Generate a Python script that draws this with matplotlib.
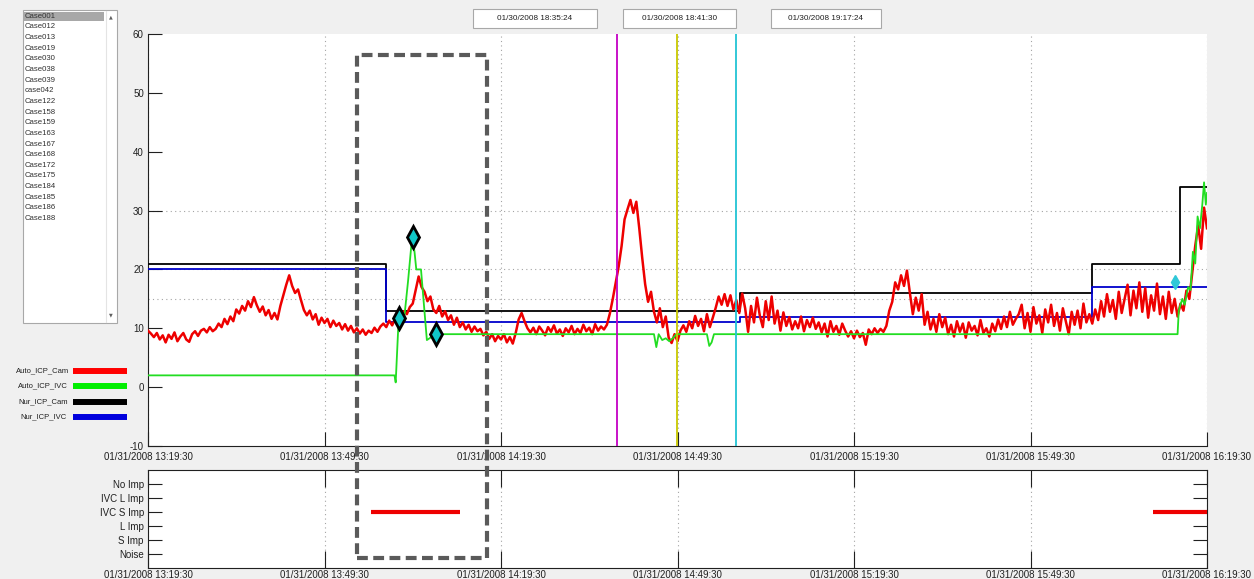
import matplotlib
matplotlib.use('Agg')
import matplotlib.pyplot as plt
from matplotlib.patches import Rectangle
from matplotlib.lines import Line2D
import numpy as np

plt.rcParams['font.family'] = ['Liberation Sans', 'DejaVu Sans']
plt.rcParams['axes.unicode_minus'] = False

# ---------------- data ----------------
case_list = ['Case001', 'Case012', 'Case013', 'Case019', 'Case030', 'Case038', 'Case039',
             'case042', 'Case122', 'Case158', 'Case159', 'Case163', 'Case167', 'Case168',
             'Case172', 'Case175', 'Case184', 'Case185', 'Case186', 'Case188']
box_times = ['01/30/2008 18:35:24', '01/30/2008 18:41:30', '01/30/2008 19:17:24']
legend_names = ['Auto_ICP_Cam', 'Auto_ICP_IVC', 'Nur_ICP_Cam', 'Nur_ICP_IVC']
legend_colors = ['#ff0000', '#00ee00', '#000000', '#0000dd']

x_ticks = [0, 30, 60, 90, 120, 150, 180]           # minutes from 13:19:30
x_labels = ['01/31/2008 13:19:30', '01/31/2008 13:49:30', '01/31/2008 14:19:30',
            '01/31/2008 14:49:30', '01/31/2008 15:19:30', '01/31/2008 15:49:30',
            '01/31/2008 16:19:30']
y_ticks = [-10, 0, 10, 20, 30, 40, 50, 60]
ref_levels = [15, 20, 30]

# Auto_ICP_Cam, sampled every 0.5 min
red = [
    9.6, 9.1, 8.5, 9.2, 8.1, 8.8, 7.6, 8.9, 8.2, 9.3,
    7.8, 8.6, 9.2, 8.1, 7.7, 9.0, 9.5, 8.7, 9.6, 9.9,
    9.3, 10.2, 9.5, 9.9, 10.8, 10.2, 11.6, 10.7, 12.0, 11.2,
    13.2, 12.5, 13.8, 13.0, 14.6, 13.6, 15.3, 13.9, 12.8, 13.7,
    12.2, 13.1, 11.6, 12.6, 11.5, 13.8, 15.6, 17.4, 19.0, 17.2,
    16.0, 16.6, 14.8, 13.1, 12.2, 13.0, 11.5, 12.4, 10.6, 11.8,
    10.9, 11.6, 10.2, 11.3, 10.4, 10.9, 9.8, 10.7, 9.6, 10.4,
    9.3, 10.0, 9.1, 9.8, 8.9, 9.6, 9.2, 10.1, 9.4, 10.3,
    10.8, 10.2, 11.3, 10.5, 11.6, 12.3, 11.8, 12.9, 12.4, 13.6,
    14.2, 16.5, 18.8, 17.0, 16.2, 14.6, 15.4, 13.2, 12.6, 13.8,
    12.0, 12.9, 11.4, 12.2, 10.6, 11.8, 10.2, 11.0, 9.8, 10.6,
    9.4, 10.3, 9.5, 9.9, 8.8, 9.4, 8.2, 9.0, 7.8, 8.7,
    8.1, 9.0, 7.6, 8.5, 7.4, 9.2, 11.5, 12.6, 11.2, 10.0,
    9.3, 10.1, 9.0, 10.3, 9.6, 8.8, 10.2, 9.4, 10.5, 9.1,
    9.8, 8.7, 10.0, 9.3, 10.4, 9.0, 9.9, 9.2, 10.6, 9.5,
    10.1, 9.0, 10.7, 9.6, 10.3, 9.8, 10.6, 12.5, 15.0, 17.8,
    20.5, 24.0, 28.5, 30.2, 31.8, 29.6, 31.5, 27.0, 22.0, 17.5,
    14.5, 16.2, 12.8, 11.0, 13.4, 10.2, 12.0, 8.4, 7.5, 9.0,
    7.8, 9.6, 10.5, 9.4, 11.2, 10.0, 12.1, 10.4, 11.6, 9.5,
    12.4, 10.2, 11.8, 13.5, 15.4, 14.0, 15.8, 13.8, 15.6, 13.2,
    14.8, 12.6, 15.9, 13.4, 9.4, 13.8, 11.0, 15.2, 12.1, 10.2,
    14.6, 11.4, 15.4, 10.8, 13.0, 9.6, 12.7, 10.4, 11.9, 9.8,
    11.2, 10.0, 12.0, 9.5, 11.4, 10.2, 11.8, 9.9, 11.0, 9.3,
    10.8, 8.6, 11.2, 9.4, 10.4, 8.9, 10.8, 9.6, 8.6, 9.5,
    8.3, 9.6, 8.5, 9.2, 7.2, 9.8, 9.0, 10.0, 9.2, 9.9,
    9.4, 10.4, 13.0, 14.5, 17.8, 16.6, 19.0, 17.2, 19.8, 16.0,
    12.4, 15.2, 13.0, 15.8, 10.6, 12.8, 9.8, 11.6, 9.4, 12.4,
    10.2, 11.8, 9.0, 10.6, 8.6, 11.2, 9.4, 10.8, 8.4, 11.0,
    9.6, 10.4, 8.8, 11.4, 9.2, 10.0, 8.6, 10.8, 9.5, 11.5,
    9.9, 12.0, 10.2, 12.8, 10.6, 11.6, 12.4, 14.0, 10.0, 12.6,
    9.4, 13.6, 10.8, 12.2, 9.2, 13.2, 11.0, 14.0, 10.4, 12.6,
    9.6, 13.4, 11.2, 9.0, 12.8, 10.6, 13.0, 10.0, 14.2, 11.0,
    12.4, 10.8, 13.2, 11.4, 14.6, 12.0, 15.8, 12.8, 14.8, 11.6,
    16.2, 12.6, 15.0, 17.4, 12.2, 16.4, 13.4, 17.8, 12.8, 16.8,
    11.8, 15.6, 13.0, 17.6, 12.4, 15.4, 11.6, 16.2, 12.6, 15.0,
    12.0, 14.2, 13.0, 16.4, 15.0, 19.5, 24.0, 27.5, 23.5, 30.5,
    27.0]
red_step = 0.5

# Auto_ICP_IVC
green_t = [0, 41.9, 42.1, 42.6, 43.6, 44.2, 44.9, 45.3, 45.6, 46.4, 47.4, 48.9,
           86.0, 86.4, 86.8, 87.4, 88.0, 88.6, 89.3, 89.8, 95.0, 95.4, 95.8, 96.2,
           175.0, 175.2, 175.8, 176.2, 176.8, 177.2, 177.6, 178.0, 178.4, 178.8,
           179.2, 179.5, 179.8, 180.0]
green_v = [2.0, 2.0, 0.8, 11.5, 12.2, 18.0, 25.6, 23.0, 20.0, 20.0, 8.0, 9.0,
           9.0, 6.8, 9.0, 8.0, 8.3, 7.8, 8.4, 9.0, 9.0, 7.0, 7.6, 9.0,
           9.0, 13.0, 15.0, 14.0, 17.0, 16.5, 23.0, 21.0, 29.0, 27.0,
           31.0, 34.8, 31.0, 33.0]

# Nurse recorded values (step changes)
nur_cam_t = [0, 40.5, 100.6, 160.4, 175.4, 180]
nur_cam_v = [21, 13, 16, 21, 34, 34]
nur_ivc_t = [0, 40.5, 100.6, 160.4, 180]
nur_ivc_v = [20, 11, 12, 17, 17]

# IVC annotations (diamonds)
diamond_t = [42.7, 45.1, 48.95]
diamond_v = [11.7, 25.5, 9.1]
small_diamond_t = [174.6]
small_diamond_v = [17.9]

# event lines
event_t = [79.8, 89.9, 99.9]
event_colors = ['#c400c4', '#c8c800', '#22c4d4']

# impedance classification
imp_labels = ['Noise', 'S Imp', 'L Imp', 'IVC S Imp', 'IVC L Imp', 'No Imp']
imp_segments = [(37.9, 53.1, 'IVC S Imp'), (170.8, 180.0, 'IVC S Imp')]

# ---------------- figure ----------------
W, H = 1254, 579
def fx(x):
    return x / W
def fy(y):
    return 1 - y / H

bg = '#f0f0f0'
fig = plt.figure(figsize=(W / 100, H / 100), dpi=100, facecolor=bg)

# ---- main axes ----
ax = fig.add_axes([fx(148), fy(446), fx(1207) - fx(148), fy(34) - fy(446)])
ax.set_xlim(0, 180)
ax.set_ylim(-10, 60)
ax.set_facecolor('white')
for s in ['top', 'right']:
    ax.spines[s].set_visible(False)
for s in ['left', 'bottom']:
    ax.spines[s].set_color('#202020')
    ax.spines[s].set_linewidth(0.8)
ax.set_xticks(x_ticks)
ax.set_xticklabels(x_labels)
ax.set_yticks(y_ticks)
ax.tick_params(direction='in', length=10, width=0.8, labelsize=7, colors='#202020')
ax.tick_params(axis='x', pad=4.5)
ax.tick_params(axis='y', pad=3)
ax.grid(axis='x', color='#a4a4a4', linestyle=(0, (1, 3)), linewidth=0.8)
for lv in ref_levels:
    ax.axhline(lv, color='#a4a4a4', linestyle=(0, (1, 3)), linewidth=0.8, zorder=1)

t_red = np.arange(len(red)) * red_step
ax.step(nur_cam_t, nur_cam_v, where='post', color='#000000', lw=1.3, zorder=3)
ax.step(nur_ivc_t, nur_ivc_v, where='post', color='#0000cc', lw=1.3, zorder=3)
ax.plot(t_red, red, color='#ee0000', lw=1.8, zorder=4)
ax.plot(green_t, green_v, color='#22dd22', lw=1.3, zorder=5)
for t, c in zip(event_t, event_colors):
    ax.axvline(t, color=c, lw=1.3, zorder=6)
ax.plot(diamond_t, diamond_v, linestyle='none', marker='d', markersize=11,
        markerfacecolor='#10c8c8', markeredgecolor='black', markeredgewidth=2, zorder=7)
ax.plot(small_diamond_t, small_diamond_v, linestyle='none', marker='d', markersize=7,
        markerfacecolor='#30c8d8', markeredgecolor='#30c8d8', zorder=7)

# ---- lower axes ----
ax2 = fig.add_axes([fx(148), fy(567.7), fx(1207) - fx(148), fy(470) - fy(567.7)])
ax2.set_xlim(0, 180)
ax2.set_ylim(0, 7)
ax2.set_facecolor('white')
for s in ax2.spines.values():
    s.set_color('#202020')
    s.set_linewidth(0.8)
ax2.set_xticks(x_ticks)
ax2.set_xticklabels(x_labels)
ax2.set_yticks(range(1, len(imp_labels) + 1))
ax2.set_yticklabels(imp_labels)
ax2.tick_params(direction='in', width=0.8, labelsize=7, colors='#202020',
                top=True, right=True)
ax2.tick_params(axis='x', length=12, pad=2)
ax2.tick_params(axis='y', length=10, pad=3)
ax2.grid(axis='x', color='#a4a4a4', linestyle=(0, (1, 3)), linewidth=0.8)
for t0, t1, lab in imp_segments:
    yv = imp_labels.index(lab) + 1
    ax2.plot([t0, t1], [yv, yv], color='#ee0000', lw=3, solid_capstyle='butt', zorder=4)

# ---- dashed highlight rectangle (spans both axes) ----
rect = Rectangle((fx(357), fy(557.5)), fx(486.5) - fx(357), fy(55) - fy(557.5),
                 transform=fig.transFigure, fill=False, edgecolor='#5a5a5a',
                 linewidth=3, linestyle=(0, (2.6, 1.3)), zorder=20)
fig.add_artist(rect)

# ---- list box ----
fig.add_artist(Rectangle((fx(22.7), fy(322.7)), fx(117.3) - fx(22.7), fy(10) - fy(322.7),
                         transform=fig.transFigure, facecolor='white',
                         edgecolor='#a8a8a8', linewidth=0.8, zorder=1))
fig.add_artist(Rectangle((fx(23.5), fy(21)), fx(104) - fx(23.5), fy(11.5) - fy(21),
                         transform=fig.transFigure, facecolor='#a8a8a8',
                         edgecolor='none', zorder=2))
fig.add_artist(Line2D([fx(105.5), fx(105.5)], [fy(10.5), fy(322.3)],
                      transform=fig.transFigure, color='#e4e4e4', lw=0.8, zorder=2))
fig.text(fx(111.3), fy(16.5), '\u25B2', fontsize=3.5, color='#606060',
         ha='center', va='center', family=['DejaVu Sans'], zorder=3)
fig.text(fx(111.3), fy(315), '\u25BC', fontsize=3.5, color='#606060',
         ha='center', va='center', family=['DejaVu Sans'], zorder=3)
for i, name in enumerate(case_list):
    fig.text(fx(24.5), fy(16.2 + i * 10.65), name, fontsize=5.6, color='#303030',
             ha='left', va='center', zorder=3)

# ---- legend ----
leg_y = [370.7, 385.7, 402.0, 416.7]
for name, col, yy in zip(legend_names, legend_colors, leg_y):
    fig.text(fx(43), fy(yy), name, fontsize=5.5, color='#202020', ha='center', va='center')
    fig.add_artist(Line2D([fx(73), fx(127)], [fy(yy), fy(yy)], transform=fig.transFigure,
                          color=col, lw=4.3, solid_capstyle='butt'))

# ---- time boxes ----
box_x = [(473, 597), (623, 736), (771, 881)]
for (x0, x1), txt in zip(box_x, box_times):
    fig.add_artist(Rectangle((fx(x0), fy(28)), fx(x1) - fx(x0), fy(9) - fy(28),
                             transform=fig.transFigure, facecolor='white',
                             edgecolor='#a8a8a8', linewidth=0.8))
    fig.text(fx((x0 + x1) / 2), fy(18.5), txt, fontsize=5.9, color='#202020',
             ha='center', va='center')

fig.savefig('out.png', dpi=100, facecolor=bg)
